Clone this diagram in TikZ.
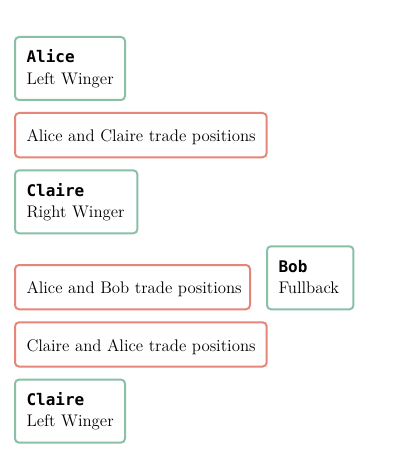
\documentclass[tikz,border=0pt]{standalone}
\usepackage{fontspec}
\setmonofont{DejaVu Sans Mono}
\definecolor{boxgreen}{RGB}{138,192,166}
\definecolor{boxred}{RGB}{229,134,120}
\tikzset{
  basebox/.style={draw, line width=1.5pt, rounded corners=3pt, anchor=north west,
    align=left, inner xsep=8.625pt, inner ysep=0pt,
    font=\fontsize{12.6}{16.2}\selectfont},
  player/.style={basebox, draw=boxgreen, minimum height=47.25pt},
  swapbox/.style={basebox, draw=boxred, minimum height=33.2pt},
}
\newcommand{\topstrut}{\vrule width 0pt height 11.85pt depth 0pt}
\newcommand{\botstrut}{\vrule width 0pt height 0pt depth 4.35pt}
\newcommand{\swapstrut}{\vrule width 0pt height 13.24pt depth 2.96pt}
\newcommand{\pname}[1]{{\ttfamily\bfseries\fontsize{12}{16.2}\selectfont #1}\topstrut}
\newcommand{\prole}[1]{\mbox{#1}\botstrut}
\newcommand{\swaptext}[1]{\mbox{#1}\swapstrut}
\begin{document}
\begin{tikzpicture}[x=0.75pt,y=-0.75pt]
\fill[white] (0,0) rectangle (400,456);
\useasboundingbox (0,0) rectangle (400,456);
\node[player, text width=65.25pt] (alice) at (14,36)
  {\pname{Alice}\\\prole{Left Winger}};
\node[swapbox, text width=171.5pt] (swap1) at (14,112)
  {\swaptext{Alice and Claire trade positions}};
\node[player, text width=74.5pt] (claire1) at (14,169.3)
  {\pname{Claire}\\\prole{Right Winger}};
\node[swapbox, text width=159pt] (swap2) at (14,264)
  {\swaptext{Alice and Bob trade positions}};
\node[player, text width=47.6pt] (bob) at (266,245.3)
  {\pname{Bob}\\\prole{Fullback}};
\node[swapbox, text width=171.5pt] (swap3) at (14,321.3)
  {\swaptext{Claire and Alice trade positions}};
\node[player, text width=65.25pt] (claire2) at (14,378.6)
  {\pname{Claire}\\\prole{Left Winger}};
\end{tikzpicture}
\end{document}
